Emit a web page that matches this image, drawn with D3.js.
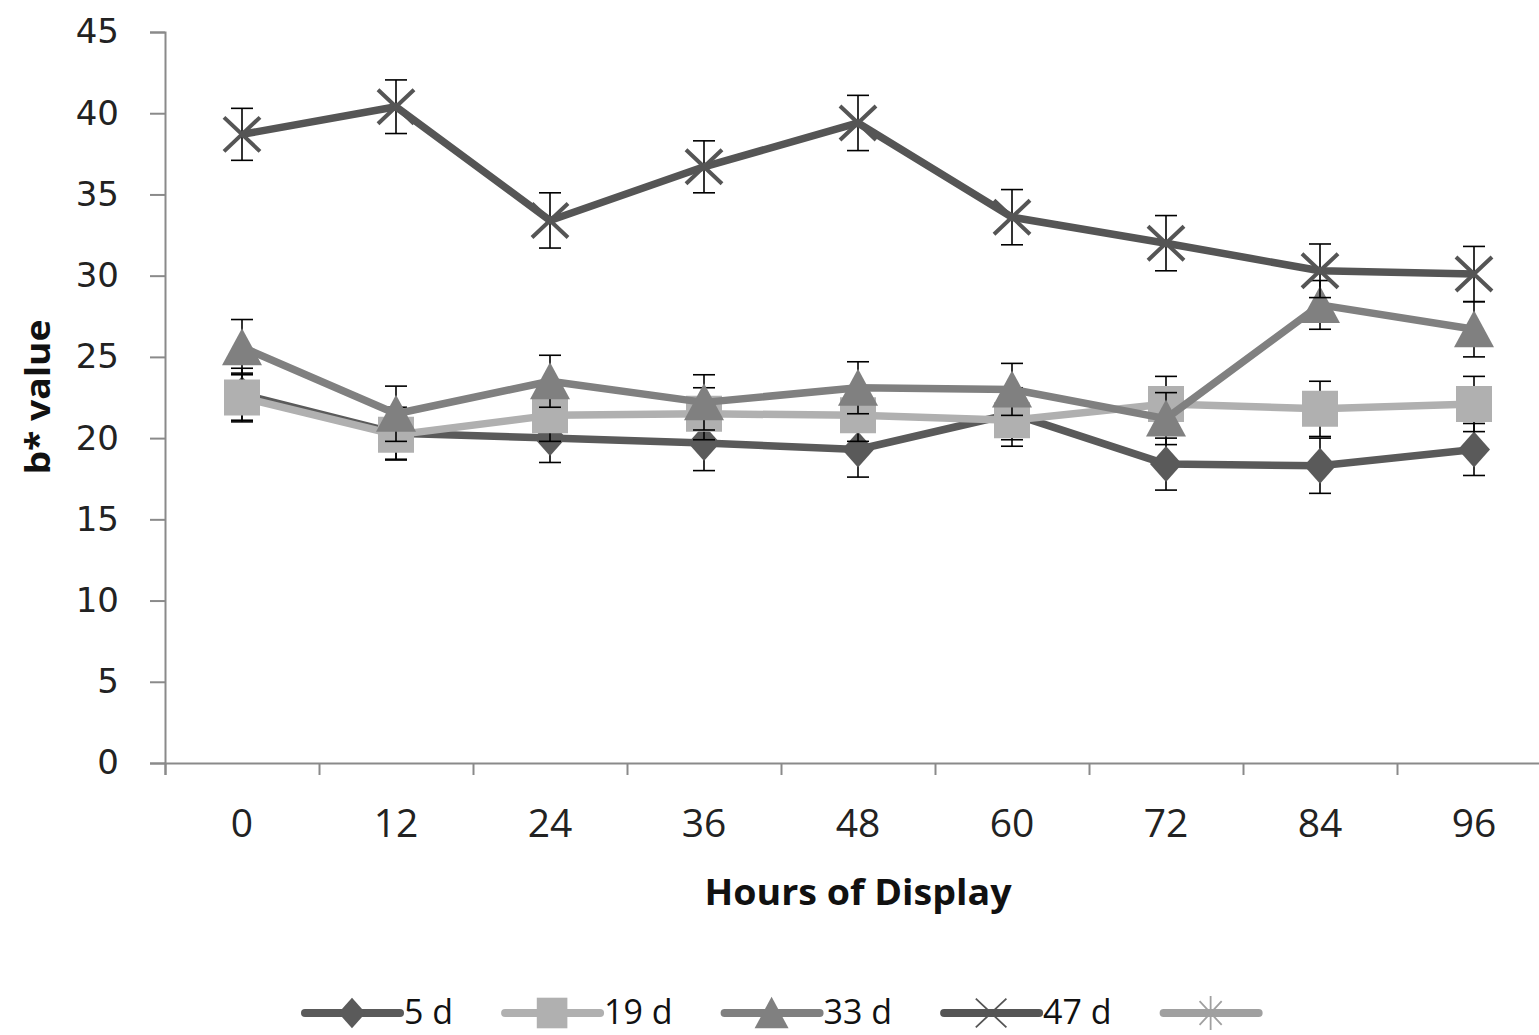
<!DOCTYPE html>
<html>
<head>
<meta charset="utf-8">
<script src="https://cdn.jsdelivr.net/npm/d3@7"></script>
<style>
  html, body { margin: 0; padding: 0; background: #fff; }
  svg { display: block; }
</style>
</head>
<body>
<svg id="chart" width="1539" height="1035"></svg>
<script>
// Hours of display (category axis)
const hours = [0, 12, 24, 36, 48, 60, 72, 84, 96];
const yTicks = [0, 5, 10, 15, 20, 25, 30, 35, 40, 45];

// b* means and error (±) per aging period
const mean5 = [22.7, 20.3, 20.0, 19.7, 19.3, 21.5, 18.4, 18.3, 19.3];
const err5 = [1.6, 1.6, 1.5, 1.7, 1.7, 1.6, 1.6, 1.7, 1.6];
const mean19 = [22.5, 20.2, 21.4, 21.5, 21.4, 21.1, 22.1, 21.8, 22.1];
const err19 = [1.5, 1.55, 1.6, 1.6, 1.6, 1.6, 1.7, 1.7, 1.7];
const mean33 = [25.6, 21.5, 23.5, 22.2, 23.1, 23.0, 21.2, 28.2, 26.7];
const err33 = [1.7, 1.7, 1.6, 1.7, 1.6, 1.6, 1.6, 1.5, 1.7];
const mean47 = [38.7, 40.4, 33.4, 36.7, 39.4, 33.6, 32.0, 30.3, 30.1];
const err47 = [1.6, 1.65, 1.7, 1.6, 1.7, 1.7, 1.7, 1.65, 1.7];

const seriesNames = ["5 d", "19 d", "33 d", "47 d", ""];

const series = [
  { name: seriesNames[0], values: mean5, errors: err5, color: "#5a5a5a", marker: "diamond" },
  { name: seriesNames[1], values: mean19, errors: err19, color: "#b0b0b0", marker: "square" },
  { name: seriesNames[2], values: mean33, errors: err33, color: "#808080", marker: "triangle" },
  { name: seriesNames[3], values: mean47, errors: err47, color: "#555555", marker: "x" },
  { name: seriesNames[4], values: [], errors: [], color: "#a0a0a0", marker: "asterisk" }
];

const svg = d3.select("#chart");
const plotLeft = 165, plotRight = 1551, plotTop = 32, plotBottom = 763;

const x = d3.scaleBand().domain(hours).range([plotLeft, plotRight]).paddingInner(0).paddingOuter(0);
const y = d3.scaleLinear().domain([0, 45]).range([plotBottom, plotTop]);
const cx = h => x(h) + x.bandwidth() / 2;

// marker outlines, centred on the data point
function markerShape(type, k) {
  switch (type) {
    case "diamond": return `M0,${-18*k}L${16*k},0L0,${18*k}L${-16*k},0Z`;
    case "square": return `M${-18*k},${-18*k}h${36*k}v${36*k}h${-36*k}Z`;
    case "triangle": return `M0,${-19*k}L${20*k},${18*k}L${-20*k},${18*k}Z`;
    case "x": return `M${-18*k},${-17*k}L${18*k},${17*k}M${-18*k},${17*k}L${18*k},${-17*k}`;
    case "asterisk": return `M${-13*k},${-14*k}L${13*k},${14*k}M${-13*k},${14*k}L${13*k},${-14*k}M0,${-20*k}L0,${20*k}`;
  }
}
function drawMarker(g, s, px, py, scale, strokeW) {
  const stroked = s.marker === "x" || s.marker === "asterisk";
  g.append("path")
    .attr("d", markerShape(s.marker, scale))
    .attr("transform", `translate(${px},${py})`)
    .attr("fill", stroked ? "none" : s.color)
    .attr("stroke", stroked ? s.color : "none")
    .attr("stroke-width", stroked ? strokeW : 0);
}

// Axes
const axisColor = "#8a8a8a";
const yAxis = d3.axisLeft(y).tickValues(yTicks).tickSize(15).tickPadding(0).tickFormat(d3.format("d"));
const gy = svg.append("g").attr("transform", `translate(${plotLeft},0)`).call(yAxis);
gy.select(".domain").attr("stroke", axisColor).attr("stroke-width", 2);
gy.selectAll(".tick line").attr("stroke", axisColor).attr("stroke-width", 2);
gy.selectAll(".tick text")
  .attr("x", -46)
  .attr("font-family", "DejaVu Sans")
  .attr("font-size", 34)
  .attr("fill", "#222");

const xBoundaryAxis = d3.axisBottom(d3.scaleLinear().domain([0, hours.length]).range([plotLeft, plotRight]))
  .tickValues(d3.range(hours.length + 1)).tickSize(12).tickFormat("");
const gx = svg.append("g").attr("transform", `translate(0,${plotBottom})`).call(xBoundaryAxis);
gx.select(".domain").attr("stroke", axisColor).attr("stroke-width", 2);
gx.selectAll(".tick line").attr("stroke", axisColor).attr("stroke-width", 2);

svg.append("g").selectAll("text").data(hours).join("text")
  .attr("x", d => cx(d))
  .attr("y", 837)
  .attr("text-anchor", "middle")
  .attr("font-family", "Open Sans")
  .attr("font-size", 39)
  .attr("fill", "#222")
  .text(d => d);

// Axis titles
svg.append("text")
  .attr("x", 858).attr("y", 905)
  .attr("text-anchor", "middle")
  .attr("font-family", "Open Sans").attr("font-weight", "bold")
  .attr("font-size", 36)
  .attr("textLength", 307).attr("lengthAdjust", "spacingAndGlyphs")
  .attr("fill", "#111")
  .text("Hours of Display");

svg.append("text")
  .attr("transform", "translate(50,397) rotate(-90)")
  .attr("text-anchor", "middle")
  .attr("font-family", "Open Sans").attr("font-weight", "bold")
  .attr("font-size", 34)
  .attr("textLength", 155).attr("lengthAdjust", "spacingAndGlyphs")
  .attr("fill", "#111")
  .text("b* value");

// Series: error bars, line, markers
const line = d3.line().x(d => cx(d.h)).y(d => y(d.v));
series.forEach(s => {
  const pts = s.values.map((v, i) => ({ h: hours[i], v, e: s.errors[i] }));
  if (!pts.length) return;
  const g = svg.append("g");
  const eb = g.append("g").attr("stroke", "#000").attr("stroke-width", 1.6);
  pts.forEach(p => {
    const px = cx(p.h);
    eb.append("line").attr("x1", px).attr("x2", px).attr("y1", y(p.v + p.e)).attr("y2", y(p.v - p.e));
    eb.append("line").attr("x1", px - 11).attr("x2", px + 11).attr("y1", y(p.v + p.e)).attr("y2", y(p.v + p.e));
    eb.append("line").attr("x1", px - 11).attr("x2", px + 11).attr("y1", y(p.v - p.e)).attr("y2", y(p.v - p.e));
  });
  g.append("path").datum(pts)
    .attr("d", line)
    .attr("fill", "none")
    .attr("stroke", s.color)
    .attr("stroke-width", 7.5)
    .attr("stroke-linejoin", "round");
  pts.forEach(p => drawMarker(g, s, cx(p.h), y(p.v), 1, 4));
});

// Legend
const legend = svg.append("g");
let lx = 305;
const ly = 1013;
series.forEach(s => {
  const g = legend.append("g");
  g.append("line")
    .attr("x1", lx).attr("x2", lx + 95).attr("y1", ly).attr("y2", ly)
    .attr("stroke", s.color).attr("stroke-width", 8).attr("stroke-linecap", "round");
  drawMarker(g, s, lx + 47, ly, 0.85, 1.8);
  const t = g.append("text")
    .attr("x", lx + 99).attr("y", 1024)
    .attr("font-family", "Open Sans")
    .attr("font-size", 34)
    .attr("fill", "#111")
    .text(s.name);
  const w = s.name ? t.node().getComputedTextLength() : 0;
  lx += 99 + w + 52;
});
</script>
</body>
</html>
